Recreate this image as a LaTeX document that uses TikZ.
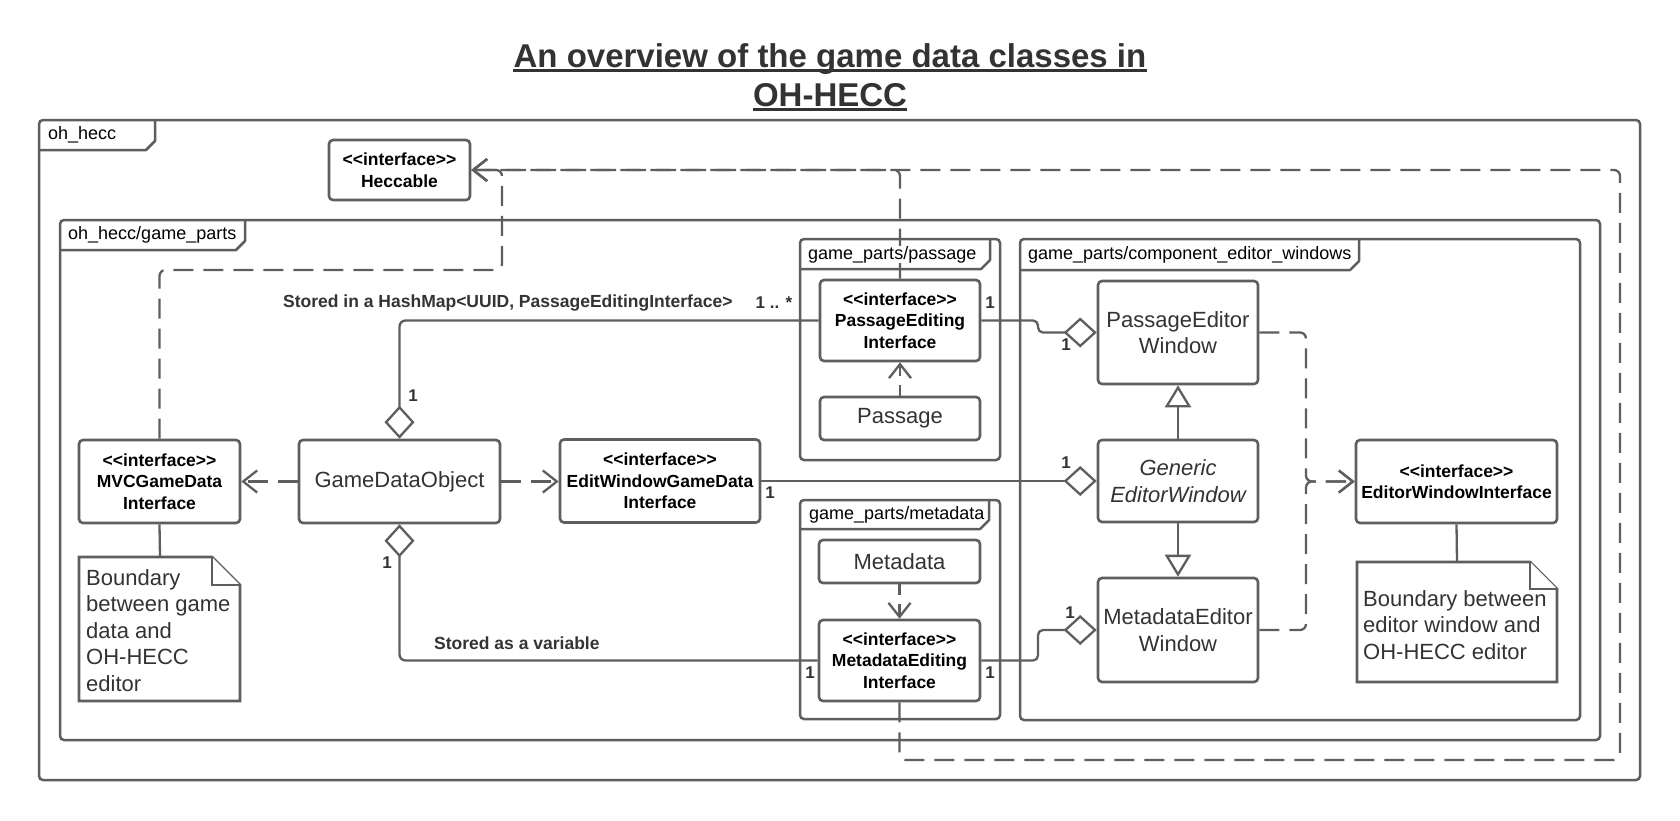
\documentclass[tikz,border=0pt]{standalone}
\usepackage{fontspec}
\setmainfont{Liberation Sans}[Ligatures=TeXOff]
\usetikzlibrary{arrows.meta}
\definecolor{ln}{RGB}{94,94,94}
\definecolor{tx}{RGB}{51,51,51}
\begin{document}
\begin{tikzpicture}[x=1pt,y=-1pt,
  box/.style={draw=ln, line width=2.6pt, rounded corners=4pt, fill=white, inner sep=1pt, align=center, text=tx, font=\fontsize{22}{26.7}\selectfont},
  ibox/.style={box, text=black, font=\bfseries\fontsize{17.5}{21.5}\selectfont},
  pkgframe/.style={draw=ln, line width=2.5pt, rounded corners=4pt, inner sep=0pt},
  pkgtab/.style={draw=ln, line width=2.5pt, line join=round},
  pkglabel/.style={anchor=base west, inner sep=0pt, fill=white, font=\fontsize{18}{20}\selectfont, text=black},
  conn/.style={draw=ln, line width=2.3pt, rounded corners=6pt},
  dep/.style={conn, dash pattern=on 20pt off 10pt, -{Straight Barb[length=14pt,width=22pt]}},
  shortdep/.style={dep, dash pattern=on 11pt off 9pt},
  agg/.style={conn, -{Diamond[fill=white,length=33pt,width=30pt]}},
  gen/.style={conn, -{Triangle[fill=white,length=22pt,width=26pt]}},
  mult/.style={font=\bfseries\fontsize{17}{19}\selectfont, text=tx, inner sep=0pt},
  lbl/.style={font=\bfseries\fontsize{17.5}{20}\selectfont, text=tx, inner sep=0pt, anchor=west},
  notebody/.style={draw=ln, line width=2.6pt, fill=white, line join=miter},
  notetext/.style={anchor=north west, inner sep=0pt, align=left, text=tx, font=\fontsize{22}{26.6}\selectfont},
  titletext/.style={anchor=base, inner sep=0pt, text=tx, font=\bfseries\fontsize{33}{38}\selectfont},
  uline/.style={draw=tx, line width=2.8pt}
]
\useasboundingbox (0,0) rectangle (1680,820);
\fill[white] (0,0) rectangle (1680,820);

% title
\node[titletext] (t1) at (830,67) {An overview of the game data classes in};
\node[titletext] (t2) at (830,106) {OH-HECC};
\draw[uline] ([yshift=-3.5pt]t1.base west) -- ([yshift=-3.5pt]t1.base east);
\draw[uline] ([yshift=-3.5pt]t2.base west) -- ([yshift=-3.5pt]t2.base east);

% packages
\node[pkgframe, minimum width=1601pt, minimum height=660pt] (ohhecc) at (839.5,450) {};
\draw[pkgtab] (39,150) -- (146,150) -- (155,141) -- (155,120);

\node[pkgframe, minimum width=1540pt, minimum height=520pt] (gp) at (830,480) {};
\draw[pkgtab] (60,250) -- (236,250) -- (245,241) -- (245,220);

\node[pkgframe, minimum width=200pt, minimum height=221pt] (pp) at (900,349.5) {};
\draw[pkgtab] (800,269) -- (981,269) -- (990,260) -- (990,239);

\node[pkgframe, minimum width=200pt, minimum height=219pt] (mp) at (900,609.5) {};
\draw[pkgtab] (800,529) -- (980,529) -- (989,520) -- (989,500);

\node[pkgframe, minimum width=560pt, minimum height=481pt] (cp) at (1300,479.5) {};
\draw[pkgtab] (1020,270) -- (1350,270) -- (1359,261) -- (1359,239);

% coordinates for bends
\coordinate (m1) at (502,270);
\coordinate (loopbr) at (1620,760);
\coordinate (j1) at (1038,0);
\coordinate (j2) at (1306,0);
\coordinate (n1top) at (160,557);
\coordinate (n2top) at (1457,562);

% boxes
\node[ibox, minimum width=141pt, minimum height=60pt] (hec) at (399.5,170) {<<interface>>\\Heccable};
\node[ibox, minimum width=161pt, minimum height=83pt] (mvc) at (159.5,481.5) {<<interface>>\\MVCGameData\\Interface};
\node[box, minimum width=201pt, minimum height=83pt] (gdo) at (399.5,481.5) {GameDataObject};
\node[ibox, minimum width=200pt, minimum height=83pt] (ewg) at (660,481) {<<interface>>\\EditWindowGameData\\Interface};
\node[ibox, minimum width=160pt, minimum height=81pt] (pei) at (900,320.5) {<<interface>>\\PassageEditing\\Interface};
\node[box, minimum width=160pt, minimum height=43pt] (pas) at (900,418.5) {Passage};
\node[box, minimum width=161pt, minimum height=43pt] (meta) at (899.5,561.5) {Metadata};
\node[ibox, minimum width=161pt, minimum height=81pt] (mei) at (899.5,660.5) {<<interface>>\\MetadataEditing\\Interface};
\node[box, minimum width=160pt, minimum height=103pt] (pew) at (1178,332.5) {PassageEditor\\Window};
\node[box, minimum width=160pt, minimum height=82pt, font=\itshape\fontsize{22}{26.7}\selectfont] (gew) at (1178,481) {Generic\\EditorWindow};
\node[box, minimum width=160pt, minimum height=104pt] (mew) at (1178,630) {MetadataEditor\\Window};
\node[ibox, minimum width=201pt, minimum height=83pt] (ewi) at (1456.5,481.5) {<<interface>>\\EditorWindowInterface};

% notes
\draw[notebody] (79,557) -- (212,557) -- (240,585) -- (240,701) -- (79,701) -- cycle;
\draw[notebody] (212,557) -- (212,585) -- (240,585);
\node[notetext] (n1) at (86,569) {Boundary\\between game\\data and\\OH-HECC\\editor};
\draw[notebody] (1357,562) -- (1530,562) -- (1557,589) -- (1557,682) -- (1357,682) -- cycle;
\draw[notebody] (1530,562) -- (1530,589) -- (1557,589);
\node[notetext] (n2) at (1363,590) {Boundary between\\editor window and\\OH-HECC editor};

% note connectors
\draw[conn] (mvc.south) -- (n1top);
\draw[conn] (ewi.south) -- (n2top);

% dependencies to Heccable
\draw[dep] (mvc.north) -- (mvc.north |- m1) -- (m1) -- (m1 |- hec.east) -- (hec.east);
\draw[dep] (pei.north) -- (pei.north |- hec.east) -- (hec.east);
\draw[dep] (mei.south) -- (mei.south |- loopbr) -- (loopbr) -- (loopbr |- hec.east) -- (hec.east);

% other dependencies
\draw[dep] (gdo.west) -- (mvc.east);
\draw[dep] (gdo.east) -- (gdo.east -| ewg.west);
\draw[shortdep] (pas.north) -- (pei.south);
\draw[shortdep] (meta.south) -- (mei.north);
\draw[dep] (pew.east) -- (pew.east -| j2) -- (j2 |- ewi.west) -- (ewi.west);
\draw[dep] (mew.east) -- (mew.east -| j2) -- (j2 |- ewi.west) -- (ewi.west);

% aggregations
\draw[agg] (pei.west) -- (pei.west -| gdo.north) -- (gdo.north);
\draw[agg] (mei.west) -- (mei.west -| gdo.south) -- (gdo.south);
\draw[agg] (ewg.east) -- (ewg.east -| gew.west);
\draw[agg, rounded corners=5pt] (pei.east) -- (pei.east -| j1) -- (j1 |- pew.west) -- (pew.west);
\draw[agg, rounded corners=5pt] (mei.east) -- (mei.east -| j1) -- (j1 |- mew.west) -- (mew.west);

% generalizations
\draw[gen] (gew.north) -- (pew.south);
\draw[gen] (gew.south) -- (mew.north);

% package labels (over connectors)
\node[pkglabel] (ohheccl) at (48,139) {oh\_hecc};
\node[pkglabel] (gpl) at (68,239) {oh\_hecc/game\_parts};
\node[pkglabel] (ppl) at (808,259) {game\_parts/passage};
\node[pkglabel] (mpl) at (809,519) {game\_parts/metadata};
\node[pkglabel] (cpl) at (1028,259) {game\_parts/component\_editor\_windows};

% labels
\node[lbl] (lhash) at (283,303) {Stored in a HashMap<UUID, PassageEditingInterface>};
\node[lbl] (lvar) at (434,643) {Stored as a variable};
\node[mult] (mu1) at (413,396) {1};
\node[mult] (mu2) at (774,303) {1 .. *};
\node[mult] (mu3) at (990,303) {1};
\node[mult] (mu4) at (1066,345) {1};
\node[mult] (mu5) at (1066,463) {1};
\node[mult] (mu6) at (770,493) {1};
\node[mult] (mu7) at (1070,613) {1};
\node[mult] (mu8) at (387,563) {1};
\node[mult] (mu9) at (810,673) {1};
\node[mult] (mu10) at (990,673) {1};
\end{tikzpicture}
\end{document}
